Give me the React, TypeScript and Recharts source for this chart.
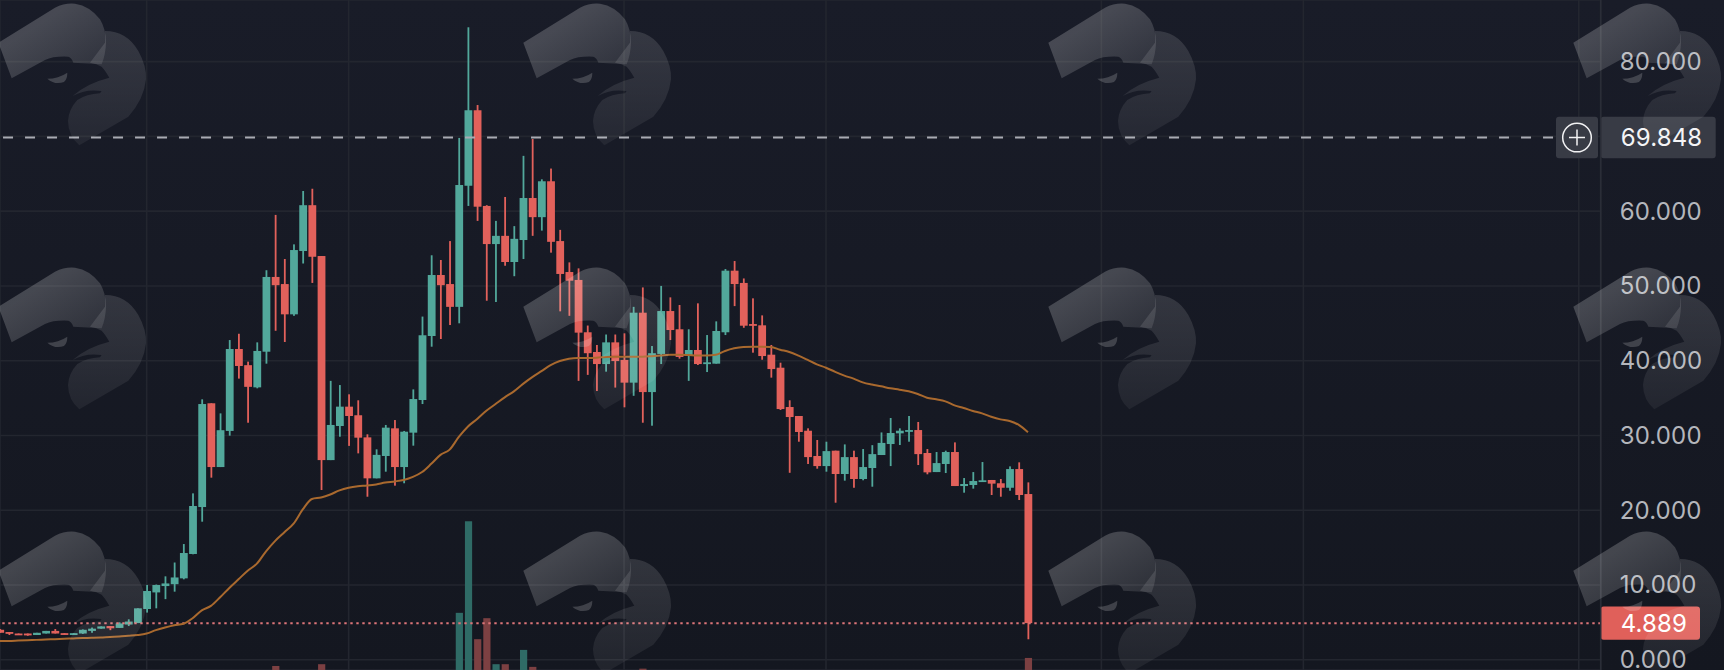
import React from "react";
import { ComposedChart, Bar, Line, XAxis, YAxis, CartesianGrid, ReferenceLine } from "recharts";

const WIDTH = 1724;
const HEIGHT = 670;

const openValues = [4.0,3.7,3.5,3.5,3.3,3.5,3.85,3.55,3.3,3.5,3.85,4.15,4.5,4.25,4.7,4.9,6.78,9.0,9.85,10.1,
10.88,14.14,20.42,34.3,25.77,30.6,41.56,39.4,36.43,41.2,
51.2,50.25,46.2,54.67,60.8,54,26.7,31.26,33.85,32.7,
29.74,24.26,27.25,30.95,25.77,30.37,34.74,43.3,51.46,50.25,
47.2,63.4,73.5,60.7,55.6,56.7,53.2,56.14,61.76,59.2,
64,56,51.86,50.8,43.8,41.16,39.55,42.45,40.1,37.06,
46.42,35.8,40.9,46.64,44.2,40.67,41.43,39.55,39.6,43.8,
52.04,50.4,44.9,44.73,40.8,39.06,33.8,32.6,30.63,27.25,
25.9,27.96,24.84,27.1,24.17,25.64,27.38,28.85,30.28,30.5,
30.72,27.65,25.1,26.18,27.78,23.23,23.37,23.77,24.04,23.6,
23.0,25.5,22.16];

const closeValues = [3.6,3.48,3.35,3.25,3.6,3.85,3.5,3.35,3.55,4.0,4.15,4.45,4.2,4.85,5.1,6.87,9.19,9.99,10.2,11.0,
14.27,20.56,34.2,25.77,30.7,41.56,39.29,36.5,41.3,51.2,
50.1,46.2,54.8,60.8,53.9,26.7,31.4,33.85,32.6,29.7,
24.26,27.4,31.04,25.77,30.5,34.87,43.4,51.46,50.1,47.2,
63.5,73.5,60.6,55.6,56.7,53.2,56.3,61.76,59.2,64.0,
55.9,51.6,50.7,43.75,41,39.55,42.45,39.95,37.06,46.42,
35.8,41,46.64,44.1,40.5,41.43,39.55,39.78,43.97,52.04,
50.25,44.68,44.68,40.62,38.88,33.53,32.46,30.46,27.1,25.9,
27.9,24.84,27.1,24.17,25.77,27.5,29,30.32,30.63,30.72,
27.5,25.06,26.3,27.78,23.23,23.5,23.9,24.0,23.55,23.0,
25.5,22.03,4.889];

const highValues = [4.1,3.7,3.5,3.5,3.6,3.85,4.1,3.55,3.55,4.05,4.3,4.45,4.5,5.0,5.4,6.87,10.0,10.05,11.15,13,
15.47,22.25,34.83,34.3,32.95,42.76,43.6,39.87,42.45,52.1,
59.5,53.6,55.56,62.7,63.0,54,37.3,36.74,35.5,34.7,
30.15,28.14,31.4,32.06,30.6,36.16,45.9,54.1,53.47,56,
69.8,84.6,74.2,60.8,58.7,61.9,58,67.4,69.65,64.26,
65.7,57.5,53.15,52.35,44.7,42.1,43.5,43.5,43.66,47.2,
49.8,41.96,50,48.47,47.45,44.2,47.67,43.43,45.26,52.26,
53.33,51,48.34,46.06,42.1,39.73,34.7,32.6,30.95,29.39,
29.16,27.96,28.8,27.96,28.18,28.7,30.4,32.33,30.95,32.6,
31.8,28.18,27.78,27.96,29.07,24.3,25.1,26.44,24.04,24.17,
25.86,26.4,23.72];

const lowValues = [3.6,3.3,3.35,3.2,3.3,3.5,3.5,3.35,3.3,3.45,3.6,4.15,3.95,4.25,4.5,4.9,6.3,6.87,8.1,9.1,
10.75,14.1,18.46,24.35,25.77,29.97,37.6,31.7,36.3,39.6,
44,42.5,46,53,50.4,22.7,26.7,29.83,28.6,27.6,
21.8,24.26,25.15,23.28,23.6,28.63,34.2,41.87,42.9,44.77,
45,60.7,58.7,48.02,47.85,52.7,51.3,53.6,56.7,57.4,
54.45,46.6,46,37.3,38.1,35.94,38.53,36.4,33.76,35.3,
31.7,31.3,39.55,42.76,40.27,37.3,39.42,38.48,39.6,43.43,
47.3,44.4,41.07,40.13,37.73,33.4,25,29.16,26.18,25.55,
25.15,21,23.95,23,24,23.14,27.38,25.9,28.72,29.16,
26.04,24.8,25.1,24.97,23.23,22.34,22.88,23.77,22.03,21.8,
22.6,21.36,2.73];

const maValues = [2.5,2.5,2.55,2.6,2.65,2.7,2.75,2.8,2.85,2.9,2.93,2.97,3.05,3.1,3.2,3.3,3.5,3.95,4.3,4.6,
4.8,5.55,6.6,7.2,8.35,9.6,10.75,11.9,12.85,14.5,
15.9,17.05,18.2,20.1,21.5,21.7,22.1,22.65,23,23.2,
23.3,23.45,23.7,23.85,24.05,24.45,25.1,26.2,27.4,28.1,
29.8,31.2,32.2,33.3,34.2,35.1,35.9,36.9,37.8,38.6,
39.4,39.95,40.27,40.36,40.36,40.4,40.5,40.53,40.53,40.53,
40.53,40.6,40.7,40.8,40.8,40.76,40.7,40.7,40.8,41.3,
41.65,41.83,41.87,41.87,41.83,41.47,41.16,40.67,40.1,39.5,
39.06,38.5,38,37.6,37.1,36.8,36.57,36.3,36.12,35.9,
35.54,35.05,34.83,34.56,34.02,33.67,33.27,32.95,32.5,32.15,
31.93,31.4,30.41];

const volumeIndex = [30,35,50,51,52,53,54,55,57,58,70,112];
const volumeValues = [0.9,1.3,12.8,33.3,6.9,11.6,1.3,1.3,4.5,0.7,0.3,2.7];

const monthTicks = [16,38,68,90,120,142,172];
const priceTicks = [0,10,20,30,40,50,60,70,80];
const refPrice = 69.848;
const lastPrice = 4.889;

const chartRows = openValues.map((open, i) => {
  const vi = volumeIndex.indexOf(i);
  return {
    i,
    open,
    close: closeValues[i],
    high: highValues[i],
    low: lowValues[i],
    ma: maValues[i],
    volume: vi >= 0 ? volumeValues[vi] : null,
  };
});

const TEAL = "#52a89b";
const RED = "#e2615b";
const FONT = "Inter, 'Noto Sans', sans-serif";

function Candle(props: any) {
  const { x, y, width, height, payload } = props;
  if (payload == null || !height) return null;
  const { open, close, high, low } = payload;
  const span = high - low || 1;
  const cx = x + width / 2;
  const up = close >= open;
  const color = up ? TEAL : RED;
  const top = y + (height * (high - Math.max(open, close))) / span;
  const bodyH = Math.max((height * Math.abs(open - close)) / span, 1.8);
  return (
    <g>
      <rect x={cx - 0.9} y={y} width={1.8} height={height} fill={color} />
      <rect x={cx - 3.9} y={top} width={7.8} height={bodyH} fill={color} />
    </g>
  );
}

function VolumeBar(props: any) {
  const { x, y, width, height, payload } = props;
  if (payload == null || !height) return null;
  const up = payload.close >= payload.open;
  const cx = x + width / 2;
  return <rect x={cx - 3.6} y={y} width={7.2} height={height} fill={up ? "#2f6b66" : "#7c4042"} />;
}

function RefTag(props: any) {
  const y = props.viewBox?.y ?? 0;
  const x = 1600.7;
  return (
    <g>
      <rect x={x - 44.7} y={y - 20.8} width={42} height={41.6} rx={3} fill="#383b45" />
      <circle cx={x - 23.7} cy={y} r={14.3} fill="none" stroke="#f2f2f4" strokeWidth={1.5} />
      <path d={`M${x - 31.7} ${y}H${x - 15.7}M${x - 23.7} ${y - 8}V${y + 8}`} stroke="#f2f2f4" strokeWidth={1.5} />
      <rect x={x} y={y - 20.8} width={115} height={41.6} rx={3} fill="#383b45" />
      <text x={x + 20} y={y + 8.5} fontSize={24} letterSpacing={0.15} fontFamily={FONT} fill="#f4f4f6">{refPrice.toFixed(3)}</text>
    </g>
  );
}

function LastTag(props: any) {
  const y = props.viewBox?.y ?? 0;
  const x = 1600.7;
  return (
    <g>
      <rect x={x} y={y - 16.7} width={99.3} height={33.4} rx={3} fill="#e0605a" />
      <text x={x + 20} y={y + 8.5} fontSize={24} letterSpacing={0.15} fontFamily={FONT} fill="#ffffff">{lastPrice.toFixed(3)}</text>
    </g>
  );
}

const logoCols = [-10, 515, 1040, 1565];
const logoRows = [-4, 260, 524];

function Watermarks() {
  return (
    <svg width={WIDTH} height={HEIGHT} style={{ position: "absolute", left: 0, top: 0, pointerEvents: "none" }}>
      <defs>
        <linearGradient id="lobe" x1="0.5" y1="0" x2="0.5" y2="1">
          <stop offset="0" stopColor="#ffffff" stopOpacity={0.125} />
          <stop offset="1" stopColor="#ffffff" stopOpacity={0.055} />
        </linearGradient>
        <linearGradient id="front" x1="0.35" y1="0.3" x2="0.9" y2="0.9">
          <stop offset="0" stopColor="#ffffff" stopOpacity={0.2} />
          <stop offset="1" stopColor="#ffffff" stopOpacity={0.1} />
        </linearGradient>
      </defs>
      {logoCols.map((cx) =>
        logoRows.map((cy) => (
          <g key={`${cx}-${cy}`} transform={`translate(${cx} ${cy}) scale(0.3333)`}>
            <path
              d="M345 105Q410 105 445 165Q470 210 468 250Q462 310 415 362L268 448Q235 420 234 375Q236 340 262 312Q290 294 330 292L335 285Q285 278 248 300Q290 262 358 245Q345 222 335 212Q320 203 300 200L345 140Z"
              fill="url(#lobe)"
            />
            <path
              d="M25 140L195 35Q225 20 255 23Q300 30 330 70Q348 100 348 140Q347 175 335 205L250 200Q245 185 235 182Q190 180 165 192L65 247Z"
              fill="url(#front)"
            />
            <path d="M172 248Q205 248 232 230Q232 250 222 258Q195 268 172 248Z" fill="#ffffff" fillOpacity={0.18} />
          </g>
        ))
      )}
    </svg>
  );
}

export default function App() {
  return (
    <div
      style={{
        position: "absolute",
        left: 0,
        top: 0,
        width: WIDTH,
        height: HEIGHT,
        overflow: "hidden",
        background: "linear-gradient(180deg,#191c28 0%,#141720 100%)",
      }}
    >
      <ComposedChart width={WIDTH} height={HEIGHT} data={chartRows} margin={{ top: 0, right: 0, bottom: 0, left: 0 }}>
        <CartesianGrid xAxisId="price" yAxisId="price" stroke="#23262f" strokeWidth={1.6} />
        <XAxis xAxisId="price" dataKey="i" type="number" domain={[0.02, 174.39]} ticks={monthTicks} allowDataOverflow hide />
        <XAxis xAxisId="vol" dataKey="i" type="number" domain={[0.02, 174.39]} hide />
        <YAxis
          yAxisId="price"
          orientation="right"
          width={123.3}
          type="number"
          domain={[-1.38, 88.25]}
          ticks={priceTicks}
          interval={0}
          allowDataOverflow
          axisLine={{ stroke: "#2a2d37", strokeWidth: 1.6 }}
          tickLine={false}
          tickMargin={13}
          tickFormatter={(v: number) => (v === 70 ? "" : v.toFixed(3))}
          tick={{ fill: "#b4b6bc", fontSize: 24, letterSpacing: 0.15, fontFamily: FONT, textAnchor: "start" }}
        />
        <YAxis yAxisId="vol" hide type="number" domain={[0, 150]} />
        <Bar xAxisId="vol" yAxisId="vol" dataKey="volume" barSize={8} shape={VolumeBar} isAnimationActive={false} />
        <ReferenceLine
          xAxisId="price"
          yAxisId="price"
          segment={[{ x: 0.35, y: refPrice }, { x: 170, y: refPrice }]}
          stroke="#a9abb3"
          strokeWidth={2}
          strokeDasharray="10 12"
          label={<RefTag />}
        />
        <ReferenceLine
          xAxisId="price"
          yAxisId="price"
          y={lastPrice}
          stroke="#dc7478"
          strokeWidth={2}
          strokeDasharray="2.4 3.6"
          label={<LastTag />}
        />
        <Bar
          xAxisId="price"
          yAxisId="price"
          dataKey={(d: any) => [d.low, d.high]}
          barSize={8}
          shape={Candle}
          isAnimationActive={false}
        />
        <Line
          xAxisId="price"
          yAxisId="price"
          dataKey="ma"
          type="monotone"
          stroke="#a9692e"
          strokeWidth={2}
          dot={false}
          activeDot={false}
          isAnimationActive={false}
        />
      </ComposedChart>
      <Watermarks />
    </div>
  );
}
